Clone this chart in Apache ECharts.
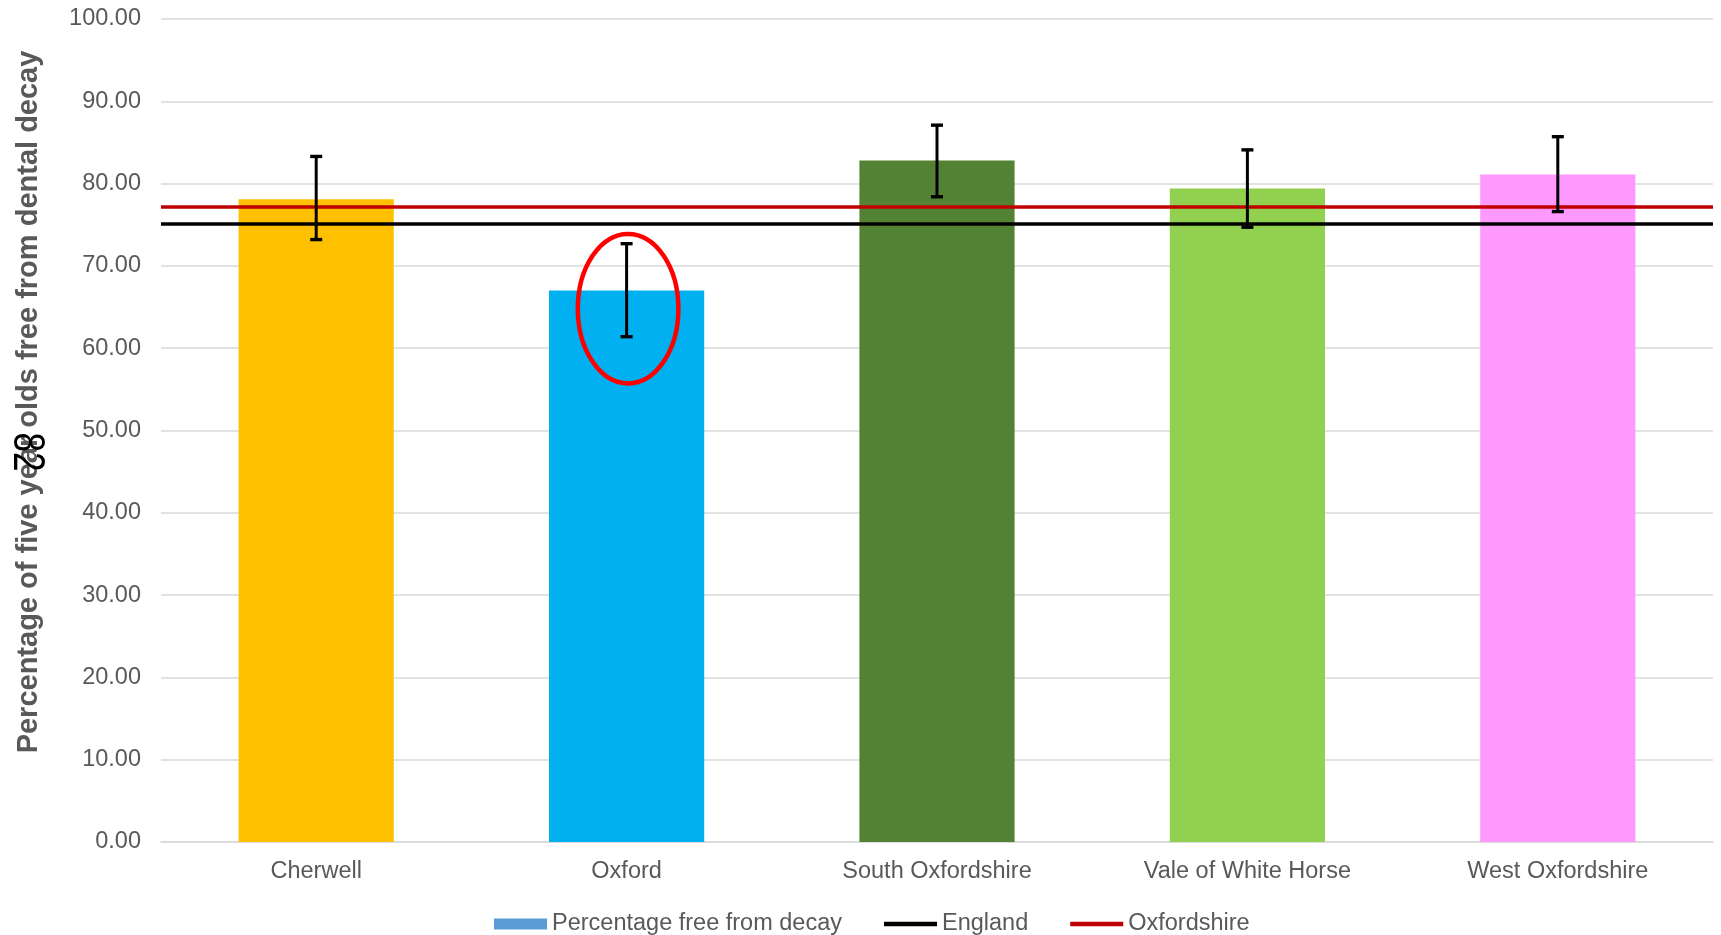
<!DOCTYPE html>
<html>
<head>
<meta charset="utf-8">
<script src="https://cdn.jsdelivr.net/npm/echarts@6/dist/echarts.min.js"></script>
<style>
  html, body { margin: 0; padding: 0; background: #ffffff; }
  #chart { width: 1721px; height: 935px; }
</style>
</head>
<body>
<div id="chart"></div>
<script>
// ---- data ----
const categories = ['Cherwell', 'Oxford', 'South Oxfordshire', 'Vale of White Horse', 'West Oxfordshire'];
const percentFree = [78.1, 67.0, 82.8, 79.4, 81.1];
const ciLower = [73.2, 61.4, 78.4, 74.7, 76.6];
const ciUpper = [83.3, 72.7, 87.1, 84.1, 85.7];
const englandValue = 75.1;
const oxfordshireValue = 77.2;
const highlightPoint = [[1, 64.8]]; // [category index, value] of the circled error bar
const yAxisTitle = 'Percentage of five year olds free from dental decay';
const pageNumber = '82';

// ---- styles ----
const barColors = ['#FFC000', '#00B0F0', '#548235', '#92D050', '#FF99FF'];
const textGrey = '#595959';
const fontFam = '"Liberation Sans", Arial, sans-serif';
const lineIcon = 'path://M0,0 L55,0 L55,4.5 L0,4.5 Z';

const chart = echarts.init(document.getElementById('chart'), null, { renderer: 'canvas' });

const option = {
  animation: false,
  backgroundColor: '#ffffff',
  textStyle: { fontFamily: fontFam },
  grid: { left: 161, right: 8, top: 19, bottom: 93, containLabel: false },
  legend: {
    left: 489,
    top: 907,
    itemWidth: 53,
    itemHeight: 11,
    itemGap: 42,
    symbolKeepAspect: true,
    textStyle: { fontSize: 23.5, color: textGrey, fontFamily: fontFam },
    data: [
      { name: 'Percentage free from decay', icon: 'rect' },
      { name: 'England', icon: lineIcon, itemStyle: { color: '#000000' } },
      { name: 'Oxfordshire', icon: lineIcon, itemStyle: { color: '#C00000' } }
    ]
  },
  xAxis: {
    type: 'category',
    data: categories,
    axisTick: { show: false },
    axisLine: { lineStyle: { color: '#D9D9D9', width: 1.5 } },
    axisLabel: { fontSize: 23.5, color: textGrey, margin: 18, fontFamily: fontFam }
  },
  yAxis: {
    type: 'value',
    min: 0,
    max: 100,
    interval: 10,
    axisLine: { show: false },
    axisTick: { show: false },
    splitLine: { lineStyle: { color: '#D9D9D9', width: 1.5 } },
    axisLabel: {
      fontSize: 23.5, color: textGrey, margin: 20, fontFamily: fontFam,
      formatter: v => v.toFixed(2)
    }
  },
  graphic: [
    {
      type: 'text',
      x: 29, y: 402,
      rotation: Math.PI / 2,
      style: {
        text: yAxisTitle,
        fill: textGrey,
        font: 'bold 29px "Liberation Sans", Arial, sans-serif',
        textAlign: 'center',
        textVerticalAlign: 'middle'
      },
      z: 50
    },
    {
      type: 'text',
      x: 26, y: 452,
      rotation: -Math.PI / 2,
      scaleX: 0.8,
      style: {
        text: pageNumber,
        fill: '#000000',
        font: '44px "Liberation Sans", Arial, sans-serif',
        textAlign: 'center',
        textVerticalAlign: 'middle'
      },
      z: 60
    }
  ],
  series: [
    {
      name: 'Percentage free from decay',
      type: 'bar',
      barWidth: '50%',
      itemStyle: { color: '#5B9BD5' },
      data: percentFree.map((v, i) => ({ value: v, itemStyle: { color: barColors[i] } })),
      z: 2
    },
    {
      name: 'England',
      type: 'line',
      symbol: 'none',
      data: [],
      itemStyle: { color: '#000000' },
      lineStyle: { color: '#000000', width: 3.5 },
      markLine: {
        silent: true,
        symbol: 'none',
        label: { show: false },
        lineStyle: { color: '#000000', width: 3.5, type: 'solid' },
        data: [{ yAxis: englandValue }]
      },
      z: 5
    },
    {
      name: 'Oxfordshire',
      type: 'line',
      symbol: 'none',
      data: [],
      itemStyle: { color: '#C00000' },
      lineStyle: { color: '#C00000', width: 3.5 },
      markLine: {
        silent: true,
        symbol: 'none',
        label: { show: false },
        lineStyle: { color: '#C00000', width: 3.5, type: 'solid' },
        data: [{ yAxis: oxfordshireValue }]
      },
      z: 5
    },
    {
      name: 'CI',
      type: 'custom',
      silent: true,
      z: 10,
      encode: { x: 0, y: [1, 2] },
      data: categories.map((c, i) => [i, ciLower[i], ciUpper[i]]),
      renderItem: function (params, api) {
        const lo = api.coord([api.value(0), api.value(1)]);
        const hi = api.coord([api.value(0), api.value(2)]);
        const hw = 6;
        const st = { stroke: '#000000', lineWidth: 3 };
        const cap = { stroke: '#000000', lineWidth: 3.4 };
        return {
          type: 'group',
          children: [
            { type: 'line', shape: { x1: lo[0], y1: lo[1], x2: hi[0], y2: hi[1] }, style: st },
            { type: 'line', shape: { x1: lo[0] - hw, y1: lo[1], x2: lo[0] + hw, y2: lo[1] }, style: cap },
            { type: 'line', shape: { x1: hi[0] - hw, y1: hi[1], x2: hi[0] + hw, y2: hi[1] }, style: cap }
          ]
        };
      }
    },
    {
      name: 'Highlight',
      type: 'custom',
      silent: true,
      z: 11,
      encode: { x: 0, y: 1 },
      data: highlightPoint,
      renderItem: function (params, api) {
        const c = api.coord([api.value(0), api.value(1)]);
        return {
          type: 'ellipse',
          shape: { cx: c[0] + 1.5, cy: c[1], rx: 50.3, ry: 74.8 },
          style: { fill: 'none', stroke: '#FF0000', lineWidth: 4.5 }
        };
      }
    }
  ]
};

chart.setOption(option);
</script>
</body>
</html>
